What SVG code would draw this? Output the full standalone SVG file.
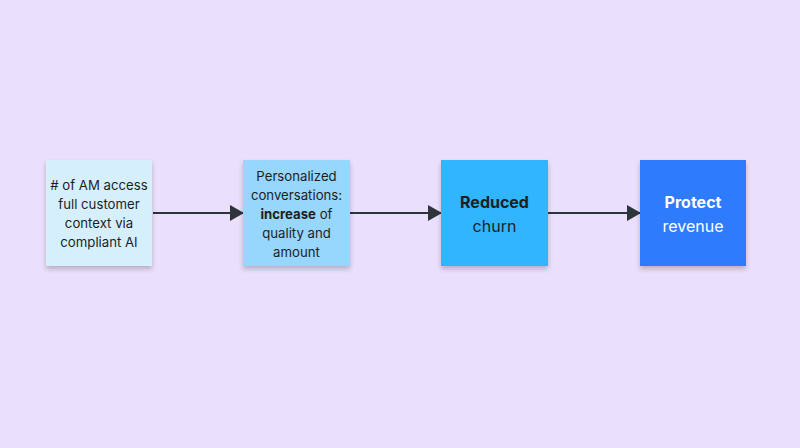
<svg xmlns="http://www.w3.org/2000/svg" width="800" height="448" viewBox="0 0 800 448">
<defs>
<filter id="sh" x="-20%" y="-20%" width="140%" height="150%">
<feDropShadow dx="0" dy="3" stdDeviation="2.5" flood-color="#000" flood-opacity="0.22"/>
</filter>
<marker id="arr" markerWidth="14" markerHeight="16" refX="13" refY="8" orient="auto" markerUnits="userSpaceOnUse">
<path d="M0,0 L14,8 L0,16 Z" fill="#2D353B"/>
</marker>
<style>
.t{font-family:Inter,"Noto Sans",sans-serif;font-size:13.2px;fill:#1E1E1E;text-anchor:middle}
.b{font-family:Inter,"Noto Sans",sans-serif;font-size:16px;text-anchor:middle}
.c{stroke:#2D353B;stroke-width:2;fill:none;marker-end:url(#arr)}
</style>
</defs>
<rect width="800" height="448" fill="#EADFFC"/>
<g id="connectors">
<line class="c" x1="153" y1="213" x2="243" y2="213"/>
<line class="c" x1="350" y1="213" x2="441" y2="213"/>
<line class="c" x1="548" y1="213" x2="640" y2="213"/>
</g>
<g id="n1">
<rect x="46" y="160" width="106" height="106" fill="#D5F0FC" filter="url(#sh)"/>
<text class="t" x="99" y="190"># of AM access</text>
<text class="t" x="99" y="209">full customer</text>
<text class="t" x="99" y="228">context via</text>
<text class="t" x="99" y="247">compliant AI</text>
</g>
<g id="n2">
<rect x="243" y="160" width="107" height="106" fill="#97D6FD" filter="url(#sh)"/>
<text class="t" x="296.5" y="181">Personalized</text>
<text class="t" x="296.5" y="200">conversations:</text>
<text class="t" x="296.5" y="219"><tspan font-weight="bold">increase</tspan> of</text>
<text class="t" x="296.5" y="238">quality and</text>
<text class="t" x="296.5" y="257">amount</text>
</g>
<g id="n3">
<rect x="441" y="160" width="107" height="106" fill="#33B5FF" filter="url(#sh)"/>
<text class="b" x="494.5" y="208" font-weight="bold" fill="#1E1E1E">Reduced</text>
<text class="b" x="494.5" y="232" fill="#1E1E1E">churn</text>
</g>
<g id="n4">
<rect x="640" y="160" width="106" height="106" fill="#2F7BFD" filter="url(#sh)"/>
<text class="b" x="693" y="208" font-weight="bold" fill="#FFFFFF">Protect</text>
<text class="b" x="693" y="232" fill="#FFFFFF">revenue</text>
</g>
</svg>
